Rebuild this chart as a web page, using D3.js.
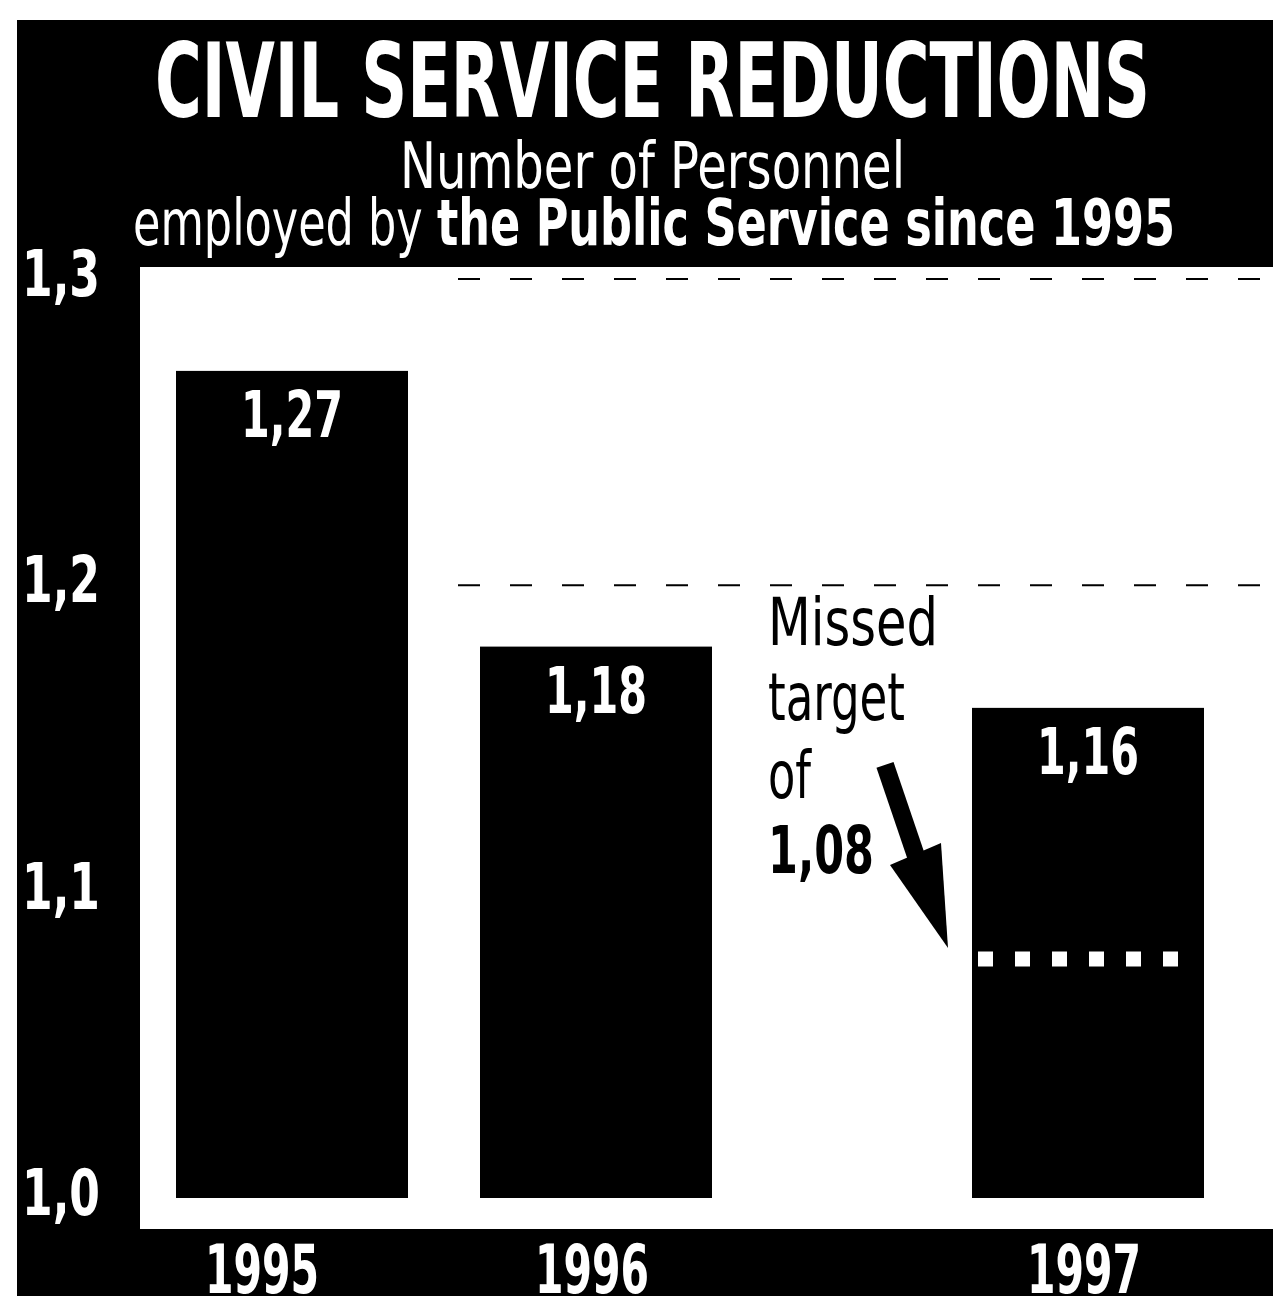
<!DOCTYPE html>
<html>
<head>
<meta charset="utf-8">
<script src="https://cdn.jsdelivr.net/npm/d3@7"></script>
<style>
  html, body { margin: 0; padding: 0; background: #fff; }
  svg { display: block; }
  text { font-family: "Liberation Sans Narrow", "DejaVu Sans Condensed", "Arial Narrow", sans-serif; }
</style>
</head>
<body>
<svg id="chart" width="1273" height="1296"></svg>
<script>
'use strict';

// data (millions of personnel)
const years = ['1995', '1996', '1997'];
const personnel = [1.27, 1.18, 1.16];
const valueLabels = ['1,27', '1,18', '1,16'];
const yTicks = [1.0, 1.1, 1.2, 1.3];
const yTickLabels = ['1,0', '1,1', '1,2', '1,3'];
const gridTicks = [1.2, 1.3];
const target = 1.08;
const targetLines = ['Missed', 'target', 'of', '1,08'];

const width = 1273;
const height = 1296;
const plot = { left: 140, top: 267, right: 1273, bottom: 1229 };
const noteGap = 188;   // room left for the "missed target" note before 1997

const svg = d3.select('#chart');

svg.append('rect')
    .attr('x', 17).attr('y', 20)
    .attr('width', width - 17).attr('height', height - 20)
    .attr('fill', '#000');

svg.append('rect')
    .attr('x', plot.left).attr('y', plot.top)
    .attr('width', plot.right - plot.left).attr('height', plot.bottom - plot.top)
    .attr('fill', '#fff');

const y = d3.scaleLinear().domain([1.0, 1.3]).range([1198, 279]);

const x = d3.scaleBand()
    .domain(years)
    .range([176, 1016])
    .paddingInner(72 / 304)
    .paddingOuter(0);

const barX = (yr) => x(yr) + (yr === '1997' ? noteGap : 0);

// titles
svg.append('text')
    .attr('x', 155).attr('y', 117)
    .attr('font-size', 104).attr('font-weight', 'bold')
    .attr('fill', '#fff')
    .attr('textLength', 995).attr('lengthAdjust', 'spacingAndGlyphs')
    .text('CIVIL SERVICE REDUCTIONS');

svg.append('text')
    .attr('x', 400).attr('y', 188)
    .attr('font-size', 64)
    .attr('fill', '#fff')
    .attr('textLength', 505).attr('lengthAdjust', 'spacingAndGlyphs')
    .text('Number of Personnel');

const sub = svg.append('text')
    .attr('x', 133).attr('y', 245)
    .attr('font-size', 64)
    .attr('fill', '#fff')
    .attr('textLength', 1042).attr('lengthAdjust', 'spacingAndGlyphs');
sub.append('tspan').text('employed by ');
sub.append('tspan').attr('font-weight', 'bold').text('the Public Service since 1995');

// dashed gridlines
svg.selectAll('.grid')
    .data(gridTicks)
    .enter()
    .append('line')
    .attr('class', 'grid')
    .attr('x1', 458).attr('x2', plot.right)
    .attr('y1', d => y(d)).attr('y2', d => y(d))
    .attr('stroke', '#000')
    .attr('stroke-width', 2)
    .attr('stroke-dasharray', '22,30');

// y axis labels
svg.selectAll('.ytick')
    .data(yTicks)
    .enter()
    .append('text')
    .attr('class', 'ytick')
    .attr('x', 22)
    .attr('y', d => y(d) + 17)
    .attr('font-size', 64).attr('font-weight', 'bold')
    .attr('fill', '#fff')
    .attr('textLength', 78).attr('lengthAdjust', 'spacingAndGlyphs')
    .text((d, i) => yTickLabels[i]);

// bars
svg.selectAll('.bar')
    .data(years)
    .enter()
    .append('rect')
    .attr('class', 'bar')
    .attr('x', d => barX(d))
    .attr('y', (d, i) => y(personnel[i]))
    .attr('width', x.bandwidth())
    .attr('height', (d, i) => y(1.0) - y(personnel[i]))
    .attr('fill', '#000');

svg.selectAll('.val')
    .data(years)
    .enter()
    .append('text')
    .attr('class', 'val')
    .attr('x', d => barX(d) + x.bandwidth() / 2)
    .attr('y', (d, i) => y(personnel[i]) + 66)
    .attr('text-anchor', 'middle')
    .attr('font-size', 64).attr('font-weight', 'bold')
    .attr('fill', '#fff')
    .attr('textLength', 102).attr('lengthAdjust', 'spacingAndGlyphs')
    .text((d, i) => valueLabels[i]);

// year labels
svg.selectAll('.year')
    .data(years)
    .enter()
    .append('text')
    .attr('class', 'year')
    .attr('x', d => barX(d) + x.bandwidth() / 2 - (d === '1995' ? 30 : 4))
    .attr('y', 1293)
    .attr('text-anchor', 'middle')
    .attr('font-size', 68).attr('font-weight', 'bold')
    .attr('fill', '#fff')
    .attr('textLength', 114).attr('lengthAdjust', 'spacingAndGlyphs')
    .text(d => d);

// target marker inside the 1997 bar
const x97 = barX('1997');
svg.append('line')
    .attr('x1', x97 + 6).attr('x2', x97 + x.bandwidth() - 20)
    .attr('y1', y(target) + 6).attr('y2', y(target) + 6)
    .attr('stroke', '#fff')
    .attr('stroke-width', 15)
    .attr('stroke-dasharray', '15,22');

// note
const noteX = 768;
const noteBase = [645, 720, 798, 873];
svg.selectAll('.note')
    .data(targetLines)
    .enter()
    .append('text')
    .attr('class', 'note')
    .attr('x', noteX)
    .attr('y', (d, i) => noteBase[i])
    .attr('font-size', 66)
    .attr('font-weight', (d, i) => i === 3 ? 'bold' : 'normal')
    .attr('fill', '#000')
    .attr('textLength', (d, i) => [170, 137, 43, 106][i])
    .attr('lengthAdjust', 'spacingAndGlyphs')
    .text(d => d);

// arrow pointing at the target level
const tip = [x97 - 24, y(target) - 5];
svg.append('line')
    .attr('x1', tip[0] - 63).attr('y1', tip[1] - 183)
    .attr('x2', tip[0] - 28).attr('y2', tip[1] - 80)
    .attr('stroke', '#000')
    .attr('stroke-width', 18);
svg.append('path')
    .attr('d', `M${tip[0]},${tip[1]} L${tip[0] - 58},${tip[1] - 83} L${tip[0] - 7},${tip[1] - 105} Z`)
    .attr('fill', '#000');
</script>
</body>
</html>
